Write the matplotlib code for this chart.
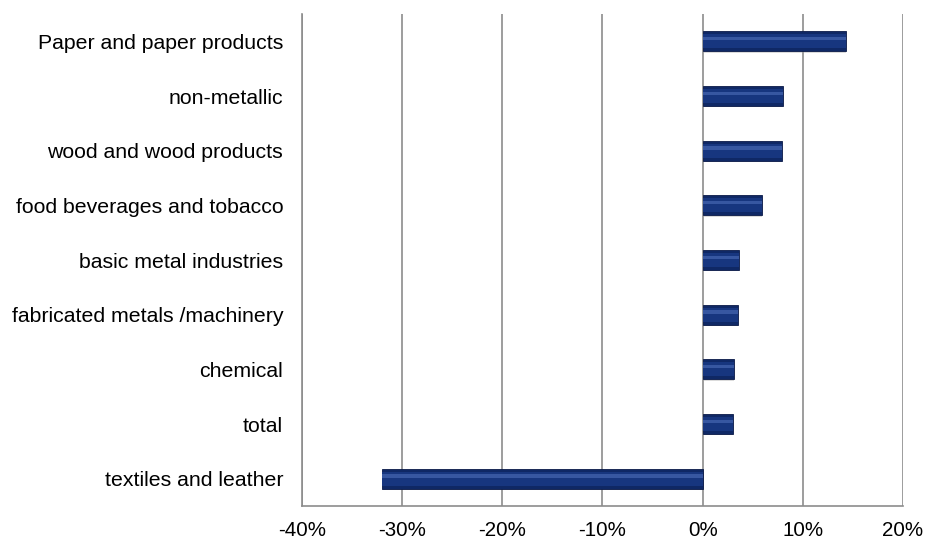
import matplotlib
matplotlib.use('Agg')
import matplotlib.pyplot as plt
from matplotlib.ticker import FuncFormatter

categorias = ['textiles and leather', 'total', 'chemical', 'fabricated metals /machinery',
              'basic metal industries', 'food beverages and tobacco', 'wood and wood products',
              'non-metallic', 'Paper and paper products']
valores = [-32.0, 3.0, 3.1, 3.5, 3.6, 5.9, 7.9, 8.0, 14.3]

plt.rcParams['font.family'] = ['Liberation Sans', 'DejaVu Sans']

fig = plt.figure(figsize=(9.28, 5.42), dpi=100)
ax = fig.add_axes([302 / 928, 36 / 542, 601 / 928, 492 / 542])

y = list(range(len(categorias)))
# soft shadow under each bar
ax.barh([i - 0.03 for i in y], valores, height=0.36, color='#9a9a9a', alpha=0.35, linewidth=0, zorder=2)
# bar with a bevel look: dark body, lighter core, thin highlight
ax.barh(y, valores, height=0.36, color='#0f2865', edgecolor='#0a1a48', linewidth=0.6, zorder=3)
ax.barh(y, valores, height=0.26, color='#17367f', linewidth=0, zorder=4)
ax.barh([i + 0.05 for i in y], valores, height=0.06, color='#3d5ea8', linewidth=0, alpha=0.85, zorder=5)

ax.set_xlim(-40, 20)
ax.set_ylim(-0.5, len(categorias) - 0.5)
ax.set_xticks(range(-40, 21, 10))
ax.xaxis.set_major_formatter(FuncFormatter(lambda v, p: '%d%%' % v))
ax.set_yticks(y)
ax.set_yticklabels(categorias)

ax.grid(axis='x', color='#8c8c8c', linewidth=1.2, zorder=0)
for s in ['top', 'right']:
    ax.spines[s].set_visible(False)
for s in ['left', 'bottom']:
    ax.spines[s].set_color('#8c8c8c')
    ax.spines[s].set_linewidth(1.2)

ax.tick_params(axis='both', length=0, colors='black')
ax.tick_params(axis='y', pad=13.5, labelsize=15.3)
ax.tick_params(axis='x', pad=11, labelsize=14.8)

fig.savefig('out.png', dpi=100)
